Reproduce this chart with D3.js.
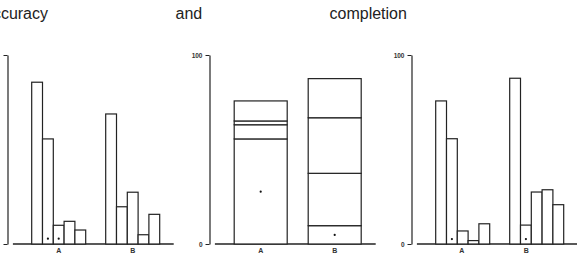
<!DOCTYPE html>
<html><head><meta charset="utf-8">
<script src="https://cdn.jsdelivr.net/npm/d3@7"></script>
<style>body{margin:0;background:#fff;overflow:hidden}svg{display:block}</style>
</head><body>
<script>
const groups = ["A", "B"];
const titles = ["Accuracy", "and", "completion"];
const yTicks = [0, 100];
// panel 1: grouped bars
const accuracyA = [85.6, 55.6, 9.9, 12.0, 7.4];
const accuracyB = [68.8, 19.7, 27.4, 4.9, 15.7];
const accuracyDots = [{g: "A", i: 1, v: 2.8}, {g: "A", i: 2, v: 2.8}];
// panel 2: stacked bars
const stackA = [55.6, 7.5, 2.0, 10.6];
const stackB = [9.7, 27.7, 29.4, 20.7];
const stackDots = [{g: "A", v: 27.7}, {g: "B", v: 4.8}];
// panel 3: grouped bars
const completionA = [75.7, 55.7, 6.9, 1.8, 10.7];
const completionB = [87.7, 10.0, 27.5, 28.7, 20.8];
const completionDots = [{g: "A", i: 1, v: 2.6}, {g: "B", i: 1, v: 2.6}];

const W = 577, H = 257;
const svg = d3.select("body").append("svg").attr("width", W).attr("height", H);
const y = d3.scaleLinear().domain([0, 100]).range([244, 55]);
const ink = "#222";
const font = "Liberation Sans, Arial, sans-serif";

// titles
const titleX = [48, 175.5, 329.5];
const titleAnchor = ["end", "start", "start"];
titles.forEach((t, k) => {
  svg.append("text").attr("x", titleX[k]).attr("y", 18.5)
    .attr("text-anchor", titleAnchor[k])
    .attr("font-family", font)
    .attr("font-size", 16).attr("fill", "#222").text(t);
});

function panel(idx, showTickLabels, labelShift) {
  const cA = 58.7 + idx * 202;
  const g = svg.append("g");
  const x = d3.scalePoint().domain(groups).range([cA, cA + 74]);
  const axis = d3.axisLeft(y).tickValues(yTicks).tickSize(4).tickSizeOuter(0).tickPadding(3);
  if (!showTickLabels) axis.tickFormat(() => "");
  const ax = g.append("g").attr("transform", `translate(${cA - 51.2},0)`).call(axis);
  ax.select(".domain").attr("stroke", ink).attr("stroke-width", 1.2);
  ax.selectAll(".tick line").attr("stroke", ink).attr("stroke-width", 1);
  ax.selectAll(".tick text").attr("font-family", font)
    .attr("font-size", 6.5).attr("font-weight", "bold").attr("fill", "#333");
  // baseline
  g.append("line").attr("x1", cA - 45.8).attr("x2", cA + 74 + 41)
    .attr("y1", y(0)).attr("y2", y(0)).attr("stroke", ink).attr("stroke-width", 1.3);
  // group labels
  g.selectAll("text.grp").data(groups).join("text").attr("class", "grp")
    .attr("x", (d, k) => x(d) + labelShift[k]).attr("y", 252.5).attr("text-anchor", "middle")
    .attr("font-family", font)
    .attr("font-size", 7).attr("font-weight", "bold").attr("fill", "#333").text(d => d);
  return {g, x};
}

function grouped(idx, valsA, valsB, dots, showTickLabels, labelShift) {
  const {g, x} = panel(idx, showTickLabels, labelShift);
  const inner = d3.scaleBand().domain(d3.range(5)).range([-27, 27]);
  const data = [];
  valsA.forEach((v, i) => data.push({g: "A", i, v}));
  valsB.forEach((v, i) => data.push({g: "B", i, v}));
  g.selectAll("rect.bar").data(data).join("rect").attr("class", "bar")
    .attr("x", d => x(d.g) + inner(d.i)).attr("width", inner.bandwidth())
    .attr("y", d => y(d.v)).attr("height", d => y(0) - y(d.v))
    .attr("fill", "#fff").attr("stroke", ink).attr("stroke-width", 1.2);
  g.selectAll("circle.dot").data(dots).join("circle").attr("class", "dot")
    .attr("cx", d => x(d.g) + inner(d.i) + inner.bandwidth() / 2).attr("cy", d => y(d.v))
    .attr("r", 1.1).attr("fill", "#111");
}

function stacked(idx) {
  const {g, x} = panel(idx, true, [0, 0]);
  const bw = 53;
  const data = [];
  [["A", stackA], ["B", stackB]].forEach(([k, arr]) => {
    let acc = 0;
    arr.forEach(v => { data.push({g: k, y0: acc, y1: acc + v}); acc += v; });
  });
  g.selectAll("rect.seg").data(data).join("rect").attr("class", "seg")
    .attr("x", d => x(d.g) - bw / 2).attr("width", bw)
    .attr("y", d => y(d.y1)).attr("height", d => y(d.y0) - y(d.y1))
    .attr("fill", "#fff").attr("stroke", ink).attr("stroke-width", 1.2);
  g.selectAll("circle.dot").data(stackDots).join("circle").attr("class", "dot")
    .attr("cx", d => x(d.g)).attr("cy", d => y(d.v))
    .attr("r", 1.1).attr("fill", "#111");
}

grouped(0, accuracyA, accuracyB, accuracyDots, false, [0, 0]);
stacked(1);
grouped(2, completionA, completionB, completionDots, true, [-1, -10.5]);
</script>
</body></html>
